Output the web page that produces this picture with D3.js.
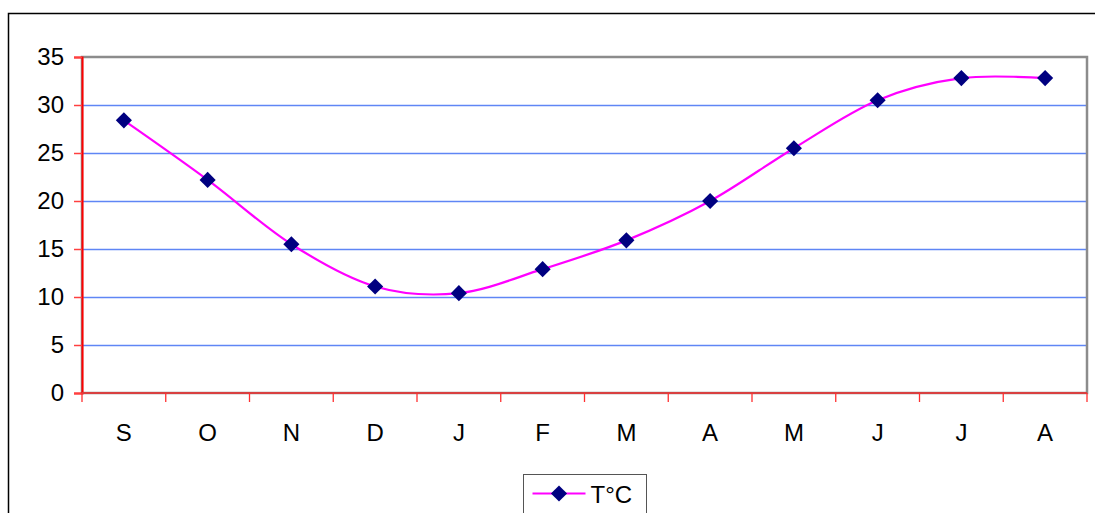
<!DOCTYPE html>
<html>
<head>
<meta charset="utf-8">
<script src="https://cdn.jsdelivr.net/npm/d3@7"></script>
<style>
  body { margin: 0; background: #fff; }
  svg { display: block; font-family: "Liberation Sans", Arial, sans-serif; }
</style>
</head>
<body>
<svg id="chart" width="1095" height="513"></svg>
<script>
"use strict";

// month initials, Sept -> Aug
var months = ["S", "O", "N", "D", "J", "F", "M", "A", "M", "J", "J", "A"];
// temperature in degrees C
var temps = [28.4, 22.2, 15.5, 11.1, 10.4, 12.9, 15.9, 20.0, 25.5, 30.5, 32.8, 32.8];
var yTicks = [0, 5, 10, 15, 20, 25, 30, 35];
var seriesName = "T°C";

var svg = d3.select("#chart");

// plot area box
var plotLeft = 82, plotRight = 1087, plotTop = 57, plotBottom = 393;

var x = d3.scaleBand()
  .domain(d3.range(months.length))
  .range([plotLeft, plotRight]);

var y = d3.scaleLinear()
  .domain([0, 35])
  .range([plotBottom, plotTop]);

// outer chart border (clipped by the window on right / bottom)
svg.append("path")
  .attr("d", "M8.5,513 V13.5 H1095")
  .attr("fill", "none")
  .attr("stroke", "#000")
  .attr("stroke-width", 1.5);

// gridlines
svg.append("g")
  .selectAll("line")
  .data(yTicks.filter(function(d) { return d > 0 && d < 35; }))
  .enter()
  .append("line")
  .attr("x1", plotLeft).attr("x2", plotRight)
  .attr("y1", function(d) { return Math.round(y(d)) + 0.5; })
  .attr("y2", function(d) { return Math.round(y(d)) + 0.5; })
  .attr("stroke", "#5f86f5")
  .attr("stroke-width", 1.4);

// plot area frame (gray)
svg.append("rect")
  .attr("x", plotLeft).attr("y", plotTop)
  .attr("width", plotRight - plotLeft).attr("height", plotBottom - plotTop)
  .attr("fill", "none")
  .attr("stroke", "#8c8c8c")
  .attr("stroke-width", 2.5);

// y axis
var yAxis = d3.axisLeft(y).tickValues(yTicks).tickSize(8).tickPadding(10);
var gy = svg.append("g")
  .attr("transform", "translate(" + plotLeft + ",0)")
  .call(yAxis);
gy.attr("font-size", 24).attr("font-family", "Liberation Sans, Arial, sans-serif");
gy.select(".domain").attr("stroke", "#ff0000").attr("stroke-width", 2);
gy.selectAll(".tick line").attr("stroke", "#ff4040").attr("stroke-width", 1.5);
gy.selectAll(".tick text")
  .attr("font-size", "24px")
  .attr("fill", "#000");

// x axis: ticks sit on band edges, labels in band centres
var edges = d3.range(months.length + 1).map(function(i) { return plotLeft + i * x.bandwidth(); });
svg.append("line")
  .attr("x1", plotLeft).attr("x2", plotRight)
  .attr("y1", plotBottom).attr("y2", plotBottom)
  .attr("stroke", "#d84040")
  .attr("stroke-width", 2);
svg.append("g")
  .selectAll("line")
  .data(edges)
  .enter()
  .append("line")
  .attr("x1", function(d) { return d; }).attr("x2", function(d) { return d; })
  .attr("y1", plotBottom).attr("y2", plotBottom + 9)
  .attr("stroke", "#ff3030")
  .attr("stroke-width", 1.3);
svg.append("g")
  .selectAll("text")
  .data(months)
  .enter()
  .append("text")
  .attr("x", function(d, i) { return x(i) + x.bandwidth() / 2; })
  .attr("y", 441)
  .attr("text-anchor", "middle")
  .attr("font-size", "24px")
  .text(function(d) { return d; });

// smooth line like the spreadsheet's
var line = d3.line()
  .x(function(d, i) { return x(i) + x.bandwidth() / 2; })
  .y(function(d) { return y(d); })
  .curve(d3.curveCardinal.tension(0));

svg.append("path")
  .datum(temps)
  .attr("d", line)
  .attr("fill", "none")
  .attr("stroke", "#ff00ff")
  .attr("stroke-width", 2.2);

var diamond = d3.symbol().type(d3.symbolSquare).size(130);
svg.append("g")
  .selectAll("path")
  .data(temps)
  .enter()
  .append("path")
  .attr("d", diamond)
  .attr("transform", function(d, i) {
    return "translate(" + (x(i) + x.bandwidth() / 2) + "," + y(d) + ") rotate(45)";
  })
  .attr("fill", "#000080");

// legend
var lg = svg.append("g").attr("transform", "translate(523.5,474.5)");
lg.append("rect")
  .attr("width", 123).attr("height", 50)
  .attr("fill", "#fff")
  .attr("stroke", "#555")
  .attr("stroke-width", 1);
lg.append("line")
  .attr("x1", 9).attr("x2", 62)
  .attr("y1", 19).attr("y2", 19)
  .attr("stroke", "#ff00ff")
  .attr("stroke-width", 2.2);
lg.append("path")
  .attr("d", diamond)
  .attr("transform", "translate(35.5,19) rotate(45)")
  .attr("fill", "#000080");
lg.append("text")
  .attr("x", 67).attr("y", 28)
  .attr("font-size", "24px")
  .text(seriesName);
</script>
</body>
</html>
